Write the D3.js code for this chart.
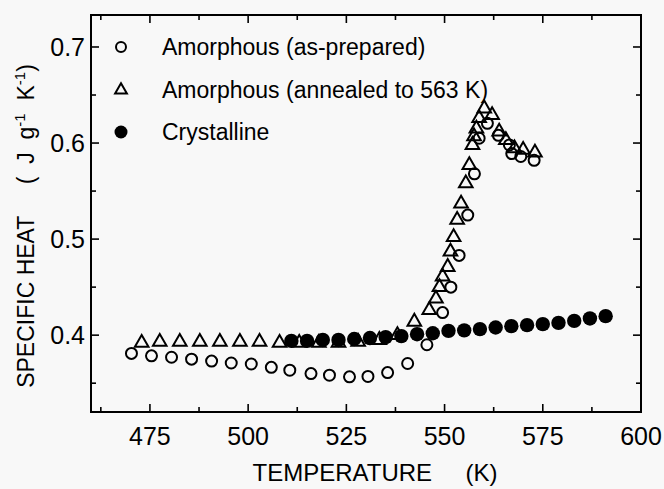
<!DOCTYPE html>
<html>
<head>
<meta charset="utf-8">
<script src="https://cdn.jsdelivr.net/npm/d3@7"></script>
<style>
  body { margin: 0; background: #f8f8f8; }
  text { font-family: "Liberation Sans", Arial, sans-serif; fill: #000; }
</style>
</head>
<body>
<div id="chart"></div>
<script>
// amorphous, as-prepared (open circles)
const prepT = [470.3, 475.4, 480.5, 485.6, 490.7, 495.7, 500.8, 505.9, 510.6, 516, 520.7, 525.8, 530.5, 535.5, 540.6,
               545.5, 549.5, 551.6, 553.7, 555.9, 557.6, 558.8, 560.9, 563.7, 566.5, 567.1, 569.4, 572.8];
const prepC = [0.381, 0.3785, 0.377, 0.375, 0.373, 0.371, 0.370, 0.3665, 0.3635, 0.360, 0.3583, 0.3566, 0.357, 0.361, 0.3705,
               0.390, 0.4235, 0.450, 0.483, 0.525, 0.568, 0.605, 0.6205, 0.608, 0.598, 0.589, 0.586, 0.582];

// amorphous, annealed to 563 K (open triangles)
const annT = [472.9, 477.5, 482.6, 487.7, 492.8, 497.9, 502.9, 508, 513, 518, 523, 528, 533.4, 538, 542.3,
              546.1, 547.8, 548.7, 549.5, 550.8, 551.5, 552.3, 553.2, 554.2, 555.4, 556.3, 557.1, 557.5, 558.1, 558.8,
              560.1, 562.1, 563.9, 565.6, 567.8, 570, 573];
const annC = [0.392, 0.393, 0.393, 0.393, 0.393, 0.393, 0.393, 0.392, 0.392, 0.392, 0.392, 0.393, 0.395, 0.400, 0.414,
              0.426, 0.438, 0.450, 0.461, 0.471, 0.487, 0.502, 0.520, 0.537, 0.558, 0.577, 0.598, 0.607, 0.615, 0.626,
              0.636, 0.629, 0.612, 0.603, 0.5945, 0.593, 0.590];

// crystalline (filled circles)
const crysT = [511, 515, 519, 523, 527, 531, 535, 539, 543, 547, 551, 555, 559, 563, 567, 571, 575, 579, 583, 587, 591];
const crysC = [0.394, 0.394, 0.395, 0.395, 0.396, 0.397, 0.398, 0.399, 0.401, 0.402, 0.4045, 0.405, 0.4063, 0.408, 0.4094,
               0.4104, 0.4115, 0.4128, 0.4149, 0.4174, 0.4198];

const xMajor = [475, 500, 525, 550, 575, 600];
const xMinor = [462.5, 487.5, 512.5, 537.5, 562.5, 587.5];
const yMajor = [0.4, 0.5, 0.6, 0.7];
const yMinor = [0.35, 0.45, 0.55, 0.65];

const legendLabels = ["Amorphous (as-prepared)", "Amorphous (annealed to 563 K)", "Crystalline"];

const W = 664, H = 489;
const svg = d3.select("#chart").append("svg")
  .attr("width", W).attr("height", H);

const x = d3.scaleLinear().domain([460, 600]).range([91, 641]);
const y = d3.scaleLinear().domain([0.32, 0.7333]).range([412, 15]);

const x0 = x.range()[0], x1 = x.range()[1], y0 = y.range()[0], y1 = y.range()[1];

// frame
svg.append("rect")
   .attr("x", x0).attr("y", y1)
   .attr("width", x1 - x0).attr("height", y0 - y1)
   .attr("fill", "none").attr("stroke", "#000").attr("stroke-width", 2);

// inward ticks on all four sides
const tickG = svg.append("g").attr("stroke", "#000").attr("stroke-width", 1.6);
function xTicks(vals, len) {
  vals.forEach(v => {
    tickG.append("line").attr("x1", x(v)).attr("x2", x(v)).attr("y1", y0).attr("y2", y0 - len);
    tickG.append("line").attr("x1", x(v)).attr("x2", x(v)).attr("y1", y1).attr("y2", y1 + len);
  });
}
function yTicks(vals, len) {
  vals.forEach(v => {
    tickG.append("line").attr("y1", y(v)).attr("y2", y(v)).attr("x1", x0).attr("x2", x0 + len);
    tickG.append("line").attr("y1", y(v)).attr("y2", y(v)).attr("x1", x1).attr("x2", x1 - len);
  });
}
xTicks(xMajor, 8); xTicks(xMinor, 5);
yTicks(yMajor, 8); yTicks(yMinor, 5);

// tick labels
svg.selectAll(".xl").data(xMajor).enter().append("text")
   .attr("x", d => x(d)).attr("y", 445)
   .attr("text-anchor", "middle").attr("font-size", 25)
   .text(d => d);
svg.selectAll(".yl").data(yMajor).enter().append("text")
   .attr("x", 85).attr("y", d => y(d) + 9)
   .attr("text-anchor", "end").attr("font-size", 25)
   .text(d => d3.format(".1f")(d));

// axis titles
svg.append("text")
   .attr("x", 375).attr("y", 481)
   .attr("text-anchor", "middle").attr("font-size", 24)
   .attr("xml:space", "preserve")
   .text("TEMPERATURE     (K)");

const yt = svg.append("text")
   .attr("transform", "translate(34,226) rotate(-90)")
   .attr("text-anchor", "middle").attr("font-size", 23)
   .attr("xml:space", "preserve");
yt.append("tspan").text("SPECIFIC HEAT     (  J  g");
yt.append("tspan").attr("font-size", 15).attr("dy", -9).text("-1");
yt.append("tspan").attr("dy", 9).text("  K");
yt.append("tspan").attr("font-size", 15).attr("dy", -9).text("-1");
yt.append("tspan").attr("dy", 9).text(")");

// data
const prep = prepT.map((t, i) => ({t, c: prepC[i]}));
const ann = annT.map((t, i) => ({t, c: annC[i]}));
const crys = crysT.map((t, i) => ({t, c: crysC[i]}));

svg.append("g").selectAll("circle").data(prep).enter().append("circle")
   .attr("cx", d => x(d.t)).attr("cy", d => y(d.c)).attr("r", 5.5)
   .attr("fill", "none").attr("stroke", "#000").attr("stroke-width", 2);

const tri = d3.symbol().type(d3.symbolTriangle).size(80);
svg.append("g").selectAll("path").data(ann).enter().append("path")
   .attr("d", tri)
   .attr("transform", d => `translate(${x(d.t)},${y(d.c)})`)
   .attr("fill", "none").attr("stroke", "#000").attr("stroke-width", 2);

svg.append("g").selectAll("circle").data(crys).enter().append("circle")
   .attr("cx", d => x(d.t)).attr("cy", d => y(d.c)).attr("r", 7.2)
   .attr("fill", "#000");

// legend
const legY = [47, 90, 132];
const leg = svg.append("g");
leg.append("circle").attr("cx", 121).attr("cy", legY[0]).attr("r", 5)
   .attr("fill", "none").attr("stroke", "#000").attr("stroke-width", 2);
leg.append("path").attr("d", d3.symbol().type(d3.symbolTriangle).size(60))
   .attr("transform", `translate(121,${legY[1]})`)
   .attr("fill", "none").attr("stroke", "#000").attr("stroke-width", 2);
leg.append("circle").attr("cx", 121).attr("cy", legY[2]).attr("r", 6.5).attr("fill", "#000");
leg.selectAll("text").data(legendLabels).enter().append("text")
   .attr("x", 162).attr("y", (d, i) => legY[i] + 8)
   .attr("font-size", 23)
   .text(d => d);
</script>
</body>
</html>
